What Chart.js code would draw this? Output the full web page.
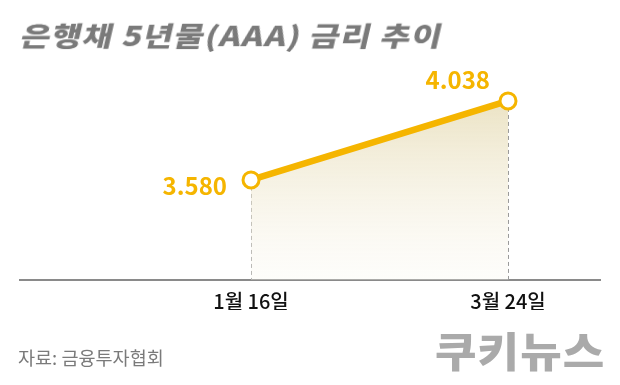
<!DOCTYPE html>
<html><head><meta charset="utf-8">
<script src="https://cdn.jsdelivr.net/npm/chart.js@4/dist/chart.umd.min.js"></script>
<style>
html,body{margin:0;padding:0;background:#fff;}
#wrap{position:relative;width:620px;height:385px;overflow:hidden;}
#c{position:absolute;left:0;top:0;}
.title{position:absolute;left:18px;top:19px;font-family:"Noto Sans CJK KR";font-weight:900;font-size:27px;color:#7a7a7a;transform:skewX(-13deg) scaleX(1.2);transform-origin:left bottom;letter-spacing:1px;white-space:nowrap;line-height:32px;}
.src{position:absolute;left:18px;top:347px;font-family:"Noto Sans CJK KR";font-size:18px;color:#7a7a7a;line-height:20px;transform:scaleX(1.03);transform-origin:left center;}
.logo{position:absolute;left:435px;top:325px;font-family:"Noto Sans CJK KR";font-weight:900;font-size:41px;color:#aaaaaa;line-height:48px;letter-spacing:1px;transform:scaleX(1.1);transform-origin:left center;}
</style></head>
<body><div id="wrap">
<canvas id="c" width="620" height="385"></canvas>
<div class="title">은행채 5년물(AAA) 금리 추이</div>
<div class="src">자료: 금융투자협회</div>
<div class="logo">쿠키뉴스</div>
</div>
<script>
const categories = ['1월 16일', '3월 24일'];
const rates = [3.580, 4.038];
const rateLabels = ['3.580', '4.038'];

const AMBER = '#F5B500';

const labelPlugin = {
  id: 'labels',
  beforeDatasetsDraw(chart) {
    const ctx = chart.ctx, meta = chart.getDatasetMeta(0), bottom = chart.chartArea.bottom;
    ctx.save();
    ctx.strokeStyle = '#9a9a9a'; ctx.lineWidth = 1; ctx.setLineDash([4, 3]);
    meta.data.forEach(p => {
      ctx.beginPath(); ctx.moveTo(Math.round(p.x) + 0.5, p.y); ctx.lineTo(Math.round(p.x) + 0.5, bottom); ctx.stroke();
    });
    ctx.restore();
  },
  afterDatasetsDraw(chart) {
    const ctx = chart.ctx, meta = chart.getDatasetMeta(0);
    ctx.save();
    ctx.fillStyle = AMBER;
    ctx.font = 'bold 24px "Noto Sans CJK KR"';
    ctx.textBaseline = 'middle';
    ctx.textAlign = 'right';
    const p0 = meta.data[0], p1 = meta.data[1];
    ctx.fillText(rateLabels[0], p0.x - 24, p0.y + 6);
    ctx.fillText(rateLabels[1], p1.x - 18, p1.y - 21);
    ctx.restore();
  }
};

const ctx = document.getElementById('c').getContext('2d');
const grad = ctx.createLinearGradient(0, 100, 0, 280);
grad.addColorStop(0, 'rgba(232,222,186,0.85)');
grad.addColorStop(1, 'rgba(250,248,240,0.3)');

new Chart(ctx, {
  type: 'line',
  data: {
    datasets: [{
      data: rates.map((v, i) => ({x: i, y: v})),
      borderColor: AMBER,
      borderWidth: 6.5,
      fill: 'start',
      backgroundColor: grad,
      pointRadius: 8,
      pointBorderWidth: 3,
      pointBackgroundColor: '#fff',
      pointBorderColor: AMBER,
      tension: 0
    }]
  },
  options: {
    responsive: false,
    animation: false,
    layout: {padding: {left: 20, right: 20, top: 73, bottom: 75}},
    plugins: {legend: {display: false}, tooltip: {enabled: false}},
    scales: {
      x: {
        type: 'linear', min: -0.899, max: 1.358,
        afterBuildTicks: s => { s.ticks = categories.map((c, i) => ({value: i})); },
        afterFit: s => { s.height = 30; },
        grid: {display: false, drawTicks: false},
        border: {display: true, color: '#8a8a8a', width: 2},
        ticks: {
          padding: 9, color: '#111', maxRotation: 0, autoSkip: false,
          font: {family: '"Noto Sans CJK KR"', size: 20, weight: '500'},
          callback: (v) => categories[v] ?? ''
        }
      },
      y: {
        display: false, min: 3.0, max: 4.2
      }
    }
  },
  plugins: [labelPlugin]
});
</script>
</body></html>
